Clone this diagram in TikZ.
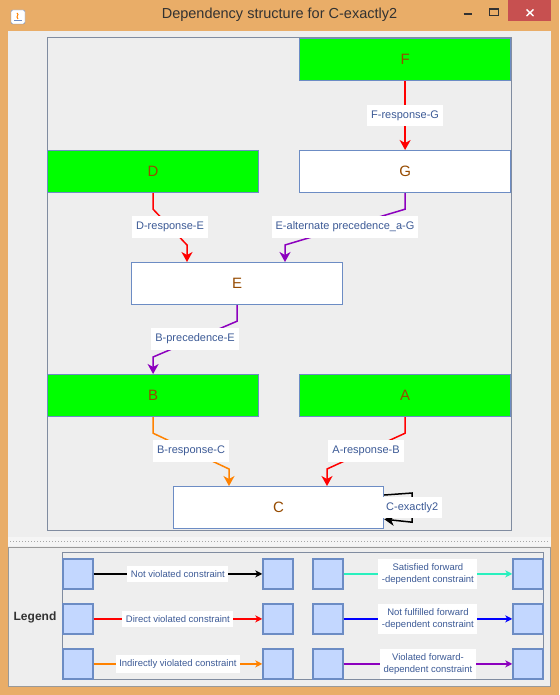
\documentclass[tikz,border=0pt]{standalone}
\usepackage{fontspec}
\setmainfont{Liberation Sans}
\usetikzlibrary{arrows.meta}

\definecolor{frameorange}{RGB}{233,173,104}
\definecolor{closered}{RGB}{199,80,80}
\definecolor{panelgray}{RGB}{238,238,238}
\definecolor{boxblue}{RGB}{108,140,196}
\definecolor{paneborder}{RGB}{128,140,160}
\definecolor{labelblue}{RGB}{60,90,150}
\definecolor{namebrown}{RGB}{150,75,0}
\definecolor{violetline}{RGB}{140,0,190}
\definecolor{orangeline}{RGB}{255,130,0}
\definecolor{turqline}{RGB}{40,240,190}
\definecolor{legendfill}{RGB}{195,215,255}
\definecolor{titlegray}{RGB}{50,50,50}

\begin{document}
\begin{tikzpicture}[x=1pt,y=-1pt,
act/.style={draw=boxblue,line width=1.2pt,anchor=north west,minimum width=211pt,minimum height=42pt,inner sep=0pt,font=\fontsize{15}{18}\selectfont,text=namebrown},
satact/.style={act,fill=green},
plainact/.style={act,fill=white},
elabel/.style={fill=white,text=labelblue,font=\fontsize{11}{13}\selectfont,inner xsep=4pt,inner ysep=5.5pt,text height=8pt,text depth=2.5pt},
dep/.style={line width=1.5pt,-{Stealth[length=10pt,width=11pt,inset=3pt]}},
lsq/.style={draw=boxblue,fill=legendfill,line width=1.2pt,anchor=north west,minimum size=30pt,inner sep=0pt},
llabel/.style={fill=white,text=labelblue,font=\fontsize{9.5}{12}\selectfont,align=center,inner xsep=3.5pt,inner ysep=4.2pt},
larrow/.style={line width=1.3pt,-{Stealth[length=7pt,width=7pt,inset=2pt]}}]

\useasboundingbox (0,0) rectangle (559,695);

\fill[frameorange] (0,0) rectangle (559,695);
\fill[closered] (508,0) rectangle (551,21);
\draw[white,line width=1.4pt] (526.5,9.5) -- (533.5,16) (533.5,9.5) -- (526.5,16);
\draw[titlegray,line width=2pt] (463.5,14.5) -- (471.5,14.5);
\draw[titlegray,line width=1.2pt] (489.5,9) rectangle (498.5,15.5);
\draw[titlegray,line width=2pt] (489.5,9.5) -- (498.5,9.5);
\draw[boxblue,fill=white,rounded corners=1.5pt] (11,10) rectangle (25,24);
\draw[orangeline,line width=1pt] (17,13) .. controls (20,15) and (15,16) .. (18,19);
\draw[boxblue,line width=1pt] (14,20.5) -- (22,20.5);
\node[text=titlegray,font=\fontsize{14.5}{17}\selectfont] (title) at (279.5,15) {Dependency structure for C-exactly2};

\fill[panelgray] (8,31) rectangle (551,687);
\draw[paneborder,fill=panelgray] (46.7,37) rectangle (510.7,530.3);
\fill[white!92!gray] (8,537) rectangle (551,546);
\draw[gray!70,line width=1pt,dotted] (10,541.5) -- (549,541.5);
\draw[gray!80] (8.3,546.7) rectangle (550.3,686.3);

\node[satact] (F) at (299,38) {F};
\node[plainact] (G) at (299,150) {G};
\node[satact] (D) at (47,150) {D};
\node[plainact] (E) at (131,262) {E};
\node[satact] (B) at (47,374) {B};
\node[satact] (A) at (299,374) {A};
\node[plainact,minimum width=210pt] (C) at (173,486) {C};

\draw[dep,red] (F.south) -- node[elabel] {F-response-G} (G.north);
\draw[dep,red] (D.south) -- ([yshift=-16]D.south) -- node[elabel] {D-response-E} ([xshift=56,yshift=17]E.north west) -- ([xshift=56]E.north west);
\draw[dep,violetline] (G.south) -- ([yshift=-16]G.south) -- node[elabel] {E-alternate precedence\_a-G} ([xshift=154,yshift=17]E.north west) -- ([xshift=154]E.north west);
\draw[dep,violetline] (E.south) -- ([yshift=-16]E.south) -- node[elabel] {B-precedence-E} ([yshift=17]B.north) -- (B.north);
\draw[dep,orangeline] (B.south) -- ([yshift=-16]B.south) -- node[elabel] {B-response-C} ([xshift=56,yshift=17]C.north west) -- ([xshift=56]C.north west);
\draw[dep,red] (A.south) -- ([yshift=-16]A.south) -- node[elabel] {A-response-B} ([xshift=154,yshift=17]C.north west) -- ([xshift=154]C.north west);
\draw[dep,black] ([yshift=-9]C.north east) -- ([xshift=28,yshift=-7]C.north east) -- node[elabel] {C-exactly2} ([xshift=28,yshift=7]C.south east) -- ([yshift=10]C.south east);

\draw[paneborder] (61.7,552.3) rectangle (543.3,679.3);
\node[font=\bfseries\fontsize{12}{14}\selectfont,text=titlegray] (legend) at (35,617) {Legend};

\node[lsq] (na) at (62.3,558.3) {};
\node[lsq] (nb) at (262.3,558.3) {};
\node[lsq] (da) at (62.3,603.3) {};
\node[lsq] (db) at (262.3,603.3) {};
\node[lsq] (ia) at (62.3,648.3) {};
\node[lsq] (ib) at (262.3,648.3) {};
\node[lsq] (sa) at (312.3,558.3) {};
\node[lsq] (sb) at (512.3,558.3) {};
\node[lsq] (fa) at (312.3,603.3) {};
\node[lsq] (fb) at (512.3,603.3) {};
\node[lsq] (va) at (312.3,648.3) {};
\node[lsq] (vb) at (512.3,648.3) {};

\draw[larrow,black] (na) -- node[llabel] {Not violated constraint} (nb);
\draw[larrow,red] (da) -- node[llabel] {Direct violated constraint} (db);
\draw[larrow,orangeline] (ia) -- node[llabel] {Indirectly violated constraint} (ib);
\draw[larrow,turqline] (sa) -- node[llabel] {Satisfied forward\\-dependent constraint} (sb);
\draw[larrow,blue] (fa) -- node[llabel] {Not fulfilled forward\\-dependent constraint} (fb);
\draw[larrow,violetline] (va) -- node[llabel] {Violated forward-\\dependent constraint} (vb);

\end{tikzpicture}
\end{document}
